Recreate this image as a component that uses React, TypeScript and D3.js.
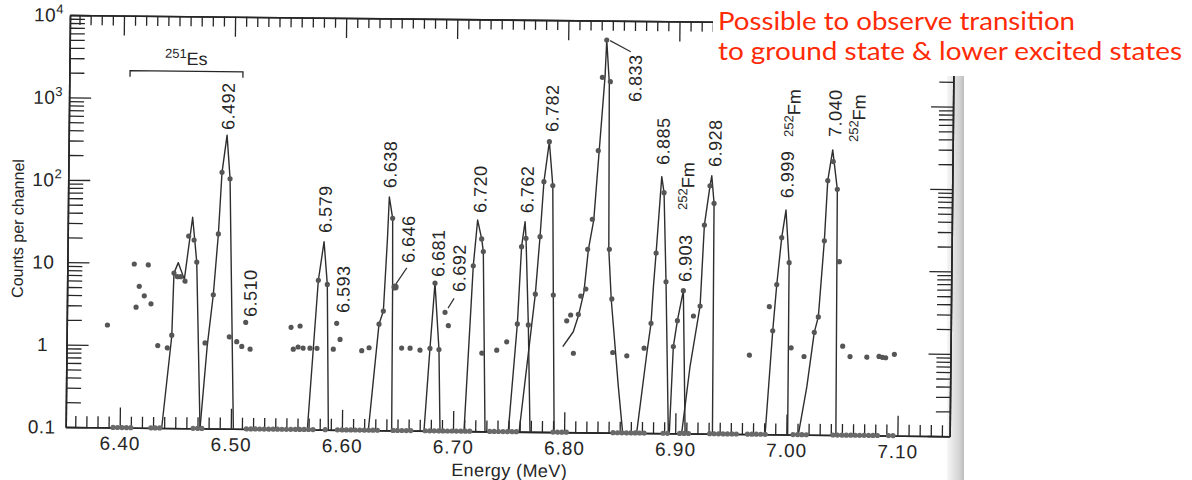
import React, { useEffect, useRef } from "react";
import * as d3 from "d3";

const WIDTH = 1192;
const HEIGHT = 480;
const plotW = 884;
const plotH = 412;

// energy (MeV) and counts per channel
const xDomain = [6.3514, 7.147];
const yDomain = [0.1, 10000];

const xMajorTicks = [6.4, 6.5, 6.6, 6.7, 6.8, 6.9, 7.0, 7.1];
const xMajorLabels = ["6.40", "6.50", "6.60", "6.70", "6.80", "6.90", "7.00", "7.10"];
const yDecades = [0.1, 1, 10, 100, 1000, 10000];
const yDecadeLabels: [string, string][] = [
  ["0.1", ""], ["1", ""], ["10", ""], ["10", "2"], ["10", "3"], ["10", "4"]
];

// channels with counts (energy, counts)
const countDots: [number, number][] = [
  [6.388, 1.75], [6.4116, 9.7], [6.4242, 9.5], [6.4163, 5.2], [6.4209, 4.0], [6.4136, 2.9],
  [6.427, 3.2], [6.4335, 1.0], [6.4421, 0.94], [6.446, 1.34], [6.4474, 7.6], [6.4504, 6.9],
  [6.4535, 6.9], [6.4574, 6.1], [6.4603, 21.5], [6.4652, 19.3], [6.4678, 10.4], [6.476, 1.09],
  [6.483, 4.2], [6.487, 23], [6.4897, 129], [6.497, 108], [6.4978, 1.3], [6.5045, 1.14],
  [6.5091, 1.0], [6.5166, 0.93], [6.5124, 1.96],
  [6.5533, 1.73], [6.5614, 1.8], [6.5555, 0.94], [6.5598, 1.0], [6.5643, 0.97], [6.5705, 0.97],
  [6.5768, 0.97], [6.5774, 6.5], [6.5855, 5.8], [6.5915, 0.95], [6.5943, 1.96], [6.5975, 1.25],
  [6.6171, 0.92], [6.6237, 1.0], [6.6324, 1.94], [6.6362, 2.8], [6.6437, 37.5],
  [6.653, 1.0], [6.6606, 1.0], [6.6695, 0.95], [6.6785, 1.0], [6.6824, 6.2], [6.6866, 0.97],
  [6.6917, 2.75], [6.6948, 1.9],
  [6.7167, 10.2], [6.724, 21.6], [6.7256, 15.2], [6.7252, 0.89], [6.7386, 0.97], [6.7475, 1.23],
  [6.7569, 2.03], [6.76, 17.6], [6.7639, 22.3], [6.7668, 1.98],
  [6.7728, 4.7], [6.7765, 23.4], [6.7795, 109], [6.784, 334], [6.7875, 98], [6.789, 4.6],
  [6.8013, 2.25], [6.8048, 2.65], [6.8076, 0.91], [6.8117, 2.7], [6.8137, 4.5], [6.8182, 5.5],
  [6.8195, 16.7], [6.8234, 38.7], [6.8281, 264], [6.8311, 2050], [6.8347, 5820], [6.8383, 1820],
  [6.839, 16.8], [6.8417, 4.2], [6.843, 0.94], [6.8557, 0.86],
  [6.8712, 1.07], [6.8772, 2.15], [6.8811, 15.3], [6.8877, 83], [6.8903, 6.9],
  [6.8975, 1.13], [6.9009, 2.33], [6.906, 5.4], [6.9153, 2.67],
  [6.9212, 3.54], [6.9243, 34], [6.929, 102], [6.9328, 62.5],
  [6.966, 0.91], [6.9835, 3.55], [6.9868, 1.81], [6.99, 6.6], [6.994, 24.5], [7.0009, 12.2],
  [7.0035, 1.13], [7.0152, 0.89],
  [7.0242, 1.75], [7.0277, 2.7], [7.0324, 22.7], [7.0349, 122], [7.0397, 208], [7.0436, 96],
  [7.0461, 12.7], [7.0499, 1.2], [7.0566, 0.9], [7.0717, 0.89], [7.0827, 0.91], [7.0857, 0.89],
  [7.0887, 0.88], [7.0965, 0.97]
];
// the 6.646 point is drawn as a heavier blob
const heavyDots: [number, number][] = [[6.6465, 5.5]];

// channels with zero counts, plotted on the 0.1 line
const zeroChannels = [
  6.394, 6.398, 6.402, 6.406, 6.41,
  6.428, 6.432, 6.436,
  6.466, 6.47, 6.474,
  6.514, 6.518, 6.522, 6.526, 6.53, 6.534, 6.538, 6.542, 6.546, 6.55, 6.554, 6.558, 6.562, 6.566, 6.57, 6.574,
  6.585,
  6.596, 6.6, 6.604, 6.608, 6.612, 6.616, 6.62, 6.624, 6.628, 6.632,
  6.646, 6.65, 6.654, 6.658, 6.662,
  6.675, 6.679, 6.683, 6.687,
  6.691, 6.695, 6.699, 6.703, 6.707, 6.711, 6.715,
  6.733, 6.737, 6.741, 6.745, 6.749, 6.753, 6.757,
  6.79, 6.794, 6.798, 6.802,
  6.844, 6.848, 6.852, 6.856, 6.86, 6.864, 6.868, 6.872,
  6.889, 6.893,
  6.904, 6.908, 6.912,
  6.931, 6.935, 6.939, 6.943, 6.947, 6.951, 6.955,
  6.965, 6.969, 6.973, 6.977, 6.981,
  7.006, 7.01, 7.014, 7.018,
  7.042, 7.046, 7.05, 7.054, 7.058, 7.062, 7.066, 7.07, 7.074, 7.078, 7.082,
  7.092, 7.096
];

// fitted peak shapes
const peakFits: [number, number][][] = [
  [[6.4378, 0.1], [6.446, 1.3], [6.4474, 7.6], [6.4512, 10.2], [6.4568, 6.4], [6.4637, 36.4], [6.4678, 10.4], [6.4723, 0.1]],
  [[6.4723, 0.1], [6.478, 1.0], [6.483, 4.2], [6.487, 23], [6.4897, 129], [6.4939, 365], [6.497, 108], [6.5023, 0.1]],
  [[6.5689, 0.1], [6.5774, 6.5], [6.5822, 19.1], [6.5855, 5.8], [6.5878, 0.1]],
  [[6.6238, 0.1], [6.6324, 1.94], [6.6362, 2.8], [6.6392, 21], [6.6405, 68], [6.6437, 37.5], [6.6443, 5.5], [6.6448, 0.1]],
  [[6.6739, 0.1], [6.6785, 1.0], [6.6824, 6.2], [6.6866, 0.97], [6.6883, 0.1]],
  [[6.7099, 0.1], [6.7167, 10.2], [6.7202, 36.6], [6.724, 21.6], [6.7256, 15.2], [6.7288, 0.1]],
  [[6.7497, 0.1], [6.7569, 2.03], [6.76, 17.6], [6.7629, 35.5], [6.7639, 22.3], [6.7668, 1.98], [6.7693, 0.1]],
  [[6.7595, 0.1], [6.7728, 4.7], [6.7765, 23.4], [6.7795, 109], [6.784, 334], [6.7875, 98], [6.789, 4.6], [6.791, 0.1]],
  [[6.798, 1.09], [6.8073, 1.66], [6.8118, 2.6], [6.8165, 5], [6.8201, 16.4], [6.8247, 38], [6.829, 270],
    [6.8335, 2090], [6.8347, 5820], [6.8374, 1740], [6.8385, 16.8], [6.8412, 4.1], [6.8484, 0.36], [6.8527, 0.1]],
  [[6.8653, 0.1], [6.8737, 0.93], [6.8772, 2.15], [6.879, 6.0], [6.8811, 15.3], [6.8855, 130], [6.8877, 83], [6.8903, 6.9], [6.8938, 0.1]],
  [[6.8947, 0.1], [6.8975, 1.13], [6.9009, 2.33], [6.906, 5.4], [6.9089, 0.1]],
  [[6.9058, 0.1], [6.9127, 0.65], [6.9212, 3.54], [6.9243, 34], [6.929, 102], [6.9305, 135], [6.9328, 62.5], [6.9335, 0.1]],
  [[6.9809, 0.1], [6.9868, 1.81], [6.99, 6.6], [6.994, 24.5], [6.9976, 53], [7.0009, 12.2], [7.0012, 0.1]],
  [[7.0108, 0.1], [7.018, 0.38], [7.0242, 1.75], [7.0277, 2.7], [7.0324, 22.7], [7.0349, 122], [7.0391, 288], [7.0436, 96], [7.0446, 0.1]]
];

const peakLabels: { text: string; e: number; c: number }[] = [
  { text: "6.492", e: 6.4947, c: 422 },
  { text: "6.510", e: 6.5163, c: 2.28 },
  { text: "6.579", e: 6.583, c: 24.4 },
  { text: "6.593", e: 6.5999, c: 2.62 },
  { text: "6.638", e: 6.641, c: 87 },
  { text: "6.646", e: 6.658, c: 10.8 },
  { text: "6.681", e: 6.6851, c: 7.4 },
  { text: "6.692", e: 6.7041, c: 4.9 },
  { text: "6.720", e: 6.7223, c: 44.6 },
  { text: "6.762", e: 6.7646, c: 45 },
  { text: "6.782", e: 6.7863, c: 439 },
  { text: "6.833", e: 6.8607, c: 1040 },
  { text: "6.885", e: 6.8865, c: 180 },
  { text: "6.903", e: 6.9074, c: 6.9 },
  { text: "6.928", e: 6.9333, c: 173 },
  { text: "6.999", e: 6.9984, c: 74 },
  { text: "7.040", e: 7.041, c: 414 }
];
const fmLabels: { e: number; c: number }[] = [
  { e: 6.9085, c: 51.6 },
  { e: 7.0033, c: 409 },
  { e: 7.0618, c: 362 }
];
const leaderLines: [number, number][][] = [
  [[6.8377, 5720], [6.8564, 4230]],
  [[6.6473, 6.0], [6.6569, 9.4]],
  [[6.6944, 3.1], [6.6997, 4.07]]
];
const esBracket = { from: 6.406, to: 6.5076, level: 2150, labelE: 6.4565, labelC: 2560 };

const noteLines = ["Possible to observe transition", "to ground state & lower excited states"];

const FONT = "'Liberation Sans', Arial, Helvetica, sans-serif";
const INK = "#262626";

export default function App() {
  const svgRef = useRef<SVGSVGElement>(null);

  useEffect(() => {
    const svg = d3.select(svgRef.current);
    svg.selectAll("*").remove();

    const x = d3.scaleLinear().domain(xDomain).range([0, plotW]);
    const y = d3.scaleLog().domain(yDomain).range([plotH, 0]);

    // paper + page edge shadow
    const defs = svg.append("defs");
    const grad = defs.append("linearGradient").attr("id", "edge").attr("x1", "0").attr("x2", "1");
    grad.append("stop").attr("offset", "0").attr("stop-color", "#f6f6f6");
    grad.append("stop").attr("offset", "0.75").attr("stop-color", "#d2d2d2");
    grad.append("stop").attr("offset", "1").attr("stop-color", "#bdbdbd");
    svg.append("rect").attr("width", WIDTH).attr("height", HEIGHT).attr("fill", "#fff");
    svg.append("rect").attr("x", 947).attr("y", 76).attr("width", 17).attr("height", HEIGHT - 76)
      .attr("fill", "url(#edge)");

    // the scan sits a little crooked
    const g = svg.append("g").attr("transform", "translate(70,15) rotate(0.6)");

    const minorX = d3.range(636, 715).map(i => i / 100)
      .filter(v => !xMajorTicks.some(m => Math.abs(m - v) < 1e-6));
    const allY = y.ticks();
    const minorY = allY.filter(v => !yDecades.some(d => Math.abs(d - v) < 1e-9));

    const styleAxis = (sel: any) => {
      sel.selectAll(".domain").attr("stroke", INK).attr("stroke-width", 1.6);
      sel.selectAll(".tick line").attr("stroke", INK).attr("stroke-width", 1.3);
    };

    // bottom
    g.append("g").attr("transform", `translate(0,${plotH})`)
      .call(d3.axisBottom(x).tickValues(minorX).tickSize(-11).tickSizeOuter(0).tickFormat(() => ""))
      .call(styleAxis);
    g.append("g").attr("transform", `translate(0,${plotH})`)
      .call(d3.axisBottom(x).tickValues(xMajorTicks).tickSize(-20).tickSizeOuter(0).tickPadding(9)
        .tickFormat((_, i) => xMajorLabels[i]))
      .call(styleAxis)
      .call(s => s.selectAll("text").attr("font-family", FONT).attr("font-size", 19)
        .attr("letter-spacing", 1).attr("fill", INK));
    // top
    g.append("g")
      .call(d3.axisTop(x).tickValues(minorX).tickSize(-10).tickSizeOuter(0).tickFormat(() => ""))
      .call(styleAxis);
    g.append("g")
      .call(d3.axisTop(x).tickValues(xMajorTicks).tickSize(-20).tickSizeOuter(0).tickFormat(() => ""))
      .call(styleAxis);
    // left
    g.append("g")
      .call(d3.axisLeft(y).tickValues(minorY).tickSize(-15).tickSizeOuter(0).tickFormat(() => ""))
      .call(styleAxis);
    g.append("g")
      .call(d3.axisLeft(y).tickValues(yDecades).tickSize(-22).tickSizeOuter(0).tickFormat(() => ""))
      .call(styleAxis);
    // right
    g.append("g").attr("transform", `translate(${plotW},0)`)
      .call(d3.axisRight(y).tickValues(minorY).tickSize(-14).tickSizeOuter(0).tickFormat(() => ""))
      .call(styleAxis);
    g.append("g").attr("transform", `translate(${plotW},0)`)
      .call(d3.axisRight(y).tickValues(yDecades).tickSize(-22).tickSizeOuter(0).tickFormat(() => ""))
      .call(styleAxis);

    // y labels with superscripts
    const yl = g.append("g").attr("font-family", FONT).attr("font-size", 19).attr("fill", INK)
      .attr("text-anchor", "middle");
    yDecades.forEach((d, i) => {
      const [base, sup] = yDecadeLabels[i];
      const t = yl.append("text").attr("x", sup ? -21 : -24).attr("y", y(d)).attr("dy", "0.35em")
        .attr("letter-spacing", 0.5);
      t.append("tspan").text(base);
      if (sup) t.append("tspan").attr("font-size", 13).attr("dy", -8).text(sup);
    });

    // axis titles
    g.append("text").attr("transform", `translate(-50,${214}) rotate(-90)`)
      .attr("text-anchor", "middle").attr("dy", "0.35em")
      .attr("font-family", FONT).attr("font-size", 16).attr("fill", INK)
      .text("Counts per channel");
    g.append("text").attr("x", 386).attr("y", plotH + 45)
      .attr("font-family", FONT).attr("font-size", 18).attr("fill", INK)
      .attr("letter-spacing", 0.4)
      .text("Energy (MeV)");

    // fitted peaks
    const line = d3.line<[number, number]>().x(d => x(d[0])).y(d => y(d[1]));
    g.append("g").selectAll("path").data(peakFits).join("path")
      .attr("d", d => line(d))
      .attr("fill", "none").attr("stroke", "#2e2e2e").attr("stroke-width", 1.4)
      .attr("stroke-linejoin", "round");

    // data points
    g.append("g").selectAll("circle.z").data(zeroChannels).join("circle")
      .attr("cx", d => x(d)).attr("cy", y(0.1)).attr("r", 2.6).attr("fill", "#6a6a6a");
    g.append("g").selectAll("circle").data(countDots).join("circle")
      .attr("cx", d => x(d[0])).attr("cy", d => y(d[1])).attr("r", 2.6).attr("fill", "#555");
    g.append("g").selectAll("circle").data(heavyDots).join("circle")
      .attr("cx", d => x(d[0])).attr("cy", d => y(d[1])).attr("r", 3.6).attr("fill", "#555");

    // leader lines
    g.append("g").selectAll("path").data(leaderLines).join("path")
      .attr("d", d => line(d)).attr("stroke", "#333").attr("stroke-width", 1.2);

    // peak labels, reading upward
    const lab = g.append("g").attr("font-family", FONT).attr("font-size", 18).attr("fill", INK);
    peakLabels.forEach(p => {
      lab.append("text")
        .attr("transform", `translate(${x(p.e)},${y(p.c)}) rotate(-90)`)
        .attr("dy", "0.35em").attr("letter-spacing", 0.5)
        .text(p.text);
    });
    fmLabels.forEach(p => {
      const t = lab.append("text")
        .attr("transform", `translate(${x(p.e) + 3},${y(p.c)}) rotate(-90)`)
        .attr("dy", "0.35em");
      t.append("tspan").attr("font-size", 13).attr("dy", -3).text("252");
      t.append("tspan").attr("dy", 7).text("Fm");
    });

    // 251Es bracket
    const by = y(esBracket.level);
    g.append("path")
      .attr("d", `M${x(esBracket.from)},${by + 6}V${by}H${x(esBracket.to)}V${by + 6}`)
      .attr("fill", "none").attr("stroke", INK).attr("stroke-width", 1.3);
    const es = g.append("text").attr("x", x(esBracket.labelE)).attr("y", y(esBracket.labelC))
      .attr("text-anchor", "middle").attr("font-family", FONT).attr("font-size", 18).attr("fill", INK);
    es.append("tspan").attr("font-size", 13).attr("dy", -7).text("251");
    es.append("tspan").attr("dy", 7).text("Es");

    // slide annotation
    svg.append("rect").attr("x", 713).attr("y", 0).attr("width", WIDTH - 713).attr("height", 76)
      .attr("fill", "#fff");
    const note = svg.append("g").attr("font-family", "Lato, 'Open Sans', sans-serif")
      .attr("font-size", 25).attr("fill", "#ff2a06");
    note.append("text").attr("x", 718).attr("y", 29.5).attr("textLength", 357)
      .attr("lengthAdjust", "spacingAndGlyphs").text(noteLines[0]);
    note.append("text").attr("x", 718).attr("y", 59.5).attr("textLength", 464)
      .attr("lengthAdjust", "spacingAndGlyphs").text(noteLines[1]);
  }, []);

  return (
    <svg ref={svgRef} width={WIDTH} height={HEIGHT}
      style={{ position: "absolute", left: 0, top: 0, display: "block" }} />
  );
}
